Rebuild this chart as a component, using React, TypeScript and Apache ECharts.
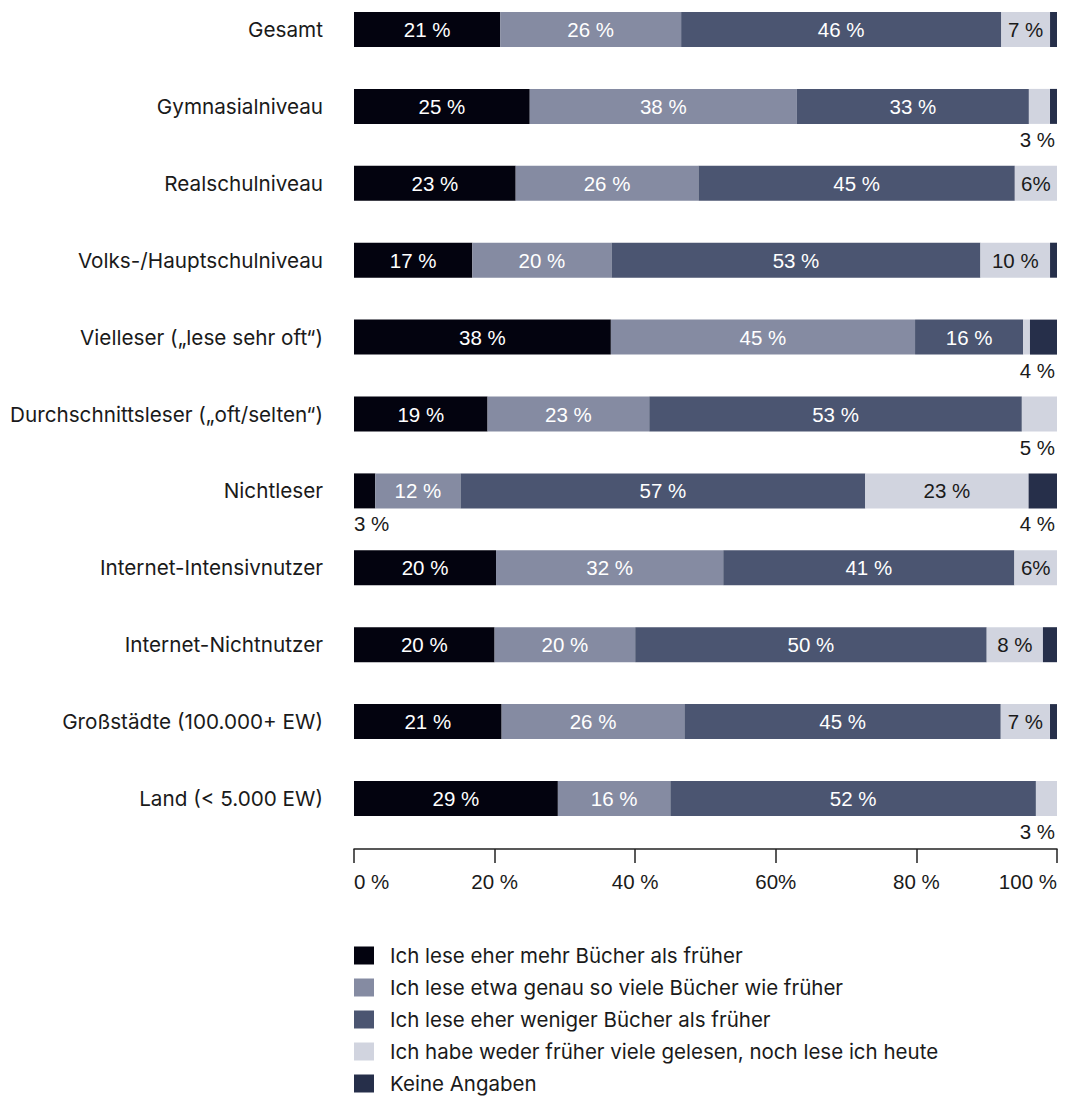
import React, { useEffect, useRef } from "react";
import * as echarts from "echarts";

const categories = [
  "Gesamt",
  "Gymnasialniveau",
  "Realschulniveau",
  "Volks-/Hauptschulniveau",
  "Vielleser („lese sehr oft“)",
  "Durchschnittsleser („oft/selten“)",
  "Nichtleser",
  "Internet-Intensivnutzer",
  "Internet-Nichtnutzer",
  "Großstädte (100.000+ EW)",
  "Land (< 5.000 EW)",
];

const seriesNames = [
  "Ich lese eher mehr Bücher als früher",
  "Ich lese etwa genau so viele Bücher wie früher",
  "Ich lese eher weniger Bücher als früher",
  "Ich habe weder früher viele gelesen, noch lese ich heute",
  "Keine Angaben",
];

const mehr = [21, 25, 23, 17, 38, 19, 3, 20, 20, 21, 29];
const gleich = [26, 38, 26, 20, 45, 23, 12, 32, 20, 26, 16];
const weniger = [46, 33, 45, 53, 16, 53, 57, 41, 50, 45, 52];
const weder = [7, 3, 6, 10, 1, 5, 23, 6, 8, 7, 3];
const keine = [1, 1, 0, 1, 4, 0, 4, 0, 2, 1, 0];

const colors = ["#03030f", "#858ba2", "#4b5571", "#d1d4df", "#262f4a"];
const xTickLabels = ["0 %", "20 %", "40 %", "60%", "80 %", "100 %"];

const NUM_FONT = "'Liberation Sans', Arial, sans-serif";
const TEXT_FONT = "Inter, 'Liberation Sans', sans-serif";
const DARK = "#1a1a1a";

export default function App() {
  const ref = useRef<HTMLDivElement>(null);

  useEffect(() => {
    if (!ref.current) return;
    const chart = echarts.init(ref.current, undefined, { renderer: "svg" });
    const raw = [mehr, gleich, weniger, weder, keine];
    const totals = categories.map((_, i) => raw.reduce((s, a) => s + a[i], 0));
    const fmt = (v: number) => (v <= 6 ? `${v}%` : `${v} %`);

    const series = raw.map((arr, s) => ({
      type: "bar",
      name: seriesNames[s],
      stack: "total",
      barWidth: 35,
      clip: false,
      itemStyle: { color: colors[s] },
      data: arr.map((v, i) => {
        const item: any = { value: (v / totals[i]) * 100 };
        const base = { show: true, fontFamily: NUM_FONT, fontSize: 20.5 };
        if (s < 4 && v >= 6) {
          item.label = {
            ...base,
            position: "inside",
            color: s === 3 ? DARK : "#ffffff",
            formatter: fmt(v),
          };
        } else if (s === 0 && v >= 3) {
          item.label = {
            ...base,
            position: ["0%", "100%"],
            align: "left",
            verticalAlign: "top",
            offset: [0, 5],
            color: DARK,
            formatter: `${v} %`,
          };
        } else if (s === 4) {
          const w = weder[i];
          const belowVal = v >= 3 ? v : w >= 3 && w < 6 ? w : null;
          if (belowVal !== null) {
            item.label = {
              ...base,
              position: ["100%", "100%"],
              align: "right",
              verticalAlign: "top",
              offset: [-2, 5],
              color: DARK,
              formatter: `${belowVal} %`,
            };
          }
        }
        return item;
      }),
    }));

    chart.setOption({
      animation: false,
      grid: { left: 354, right: 10, top: 29.5, bottom: 298.5, containLabel: false },
      xAxis: {
        type: "value",
        min: 0,
        max: 100,
        interval: 20,
        position: "bottom",
        offset: 50.5,
        splitLine: { show: false },
        axisLine: { show: true, lineStyle: { color: "#222222", width: 1.5 } },
        axisTick: { show: true, length: 14, lineStyle: { color: "#222222", width: 1.5 } },
        axisLabel: {
          margin: 22,
          fontSize: 20.5,
          fontFamily: NUM_FONT,
          color: DARK,
          alignMinLabel: "left",
          alignMaxLabel: "right",
          formatter: (v: number) => xTickLabels[Math.round(v / 20)],
        },
      },
      yAxis: {
        type: "category",
        data: categories,
        inverse: true,
        boundaryGap: false,
        axisLine: { show: false },
        axisTick: { show: false },
        splitLine: { show: false },
        axisLabel: { margin: 31, fontSize: 20.7, fontFamily: TEXT_FONT, color: DARK },
      },
      legend: {
        orient: "vertical",
        left: 354,
        top: 945,
        padding: 0,
        itemWidth: 20,
        itemHeight: 18,
        itemGap: 11,
        icon: "rect",
        data: seriesNames,
        textStyle: {
          fontFamily: TEXT_FONT,
          fontSize: 20.5,
          lineHeight: 20,
          color: DARK,
          padding: [0, 0, 0, 11],
        },
      },
      series,
    });

    return () => chart.dispose();
  }, []);

  return (
    <div
      ref={ref}
      style={{ position: "absolute", left: 0, top: 0, width: 1067, height: 1097 }}
    />
  );
}
